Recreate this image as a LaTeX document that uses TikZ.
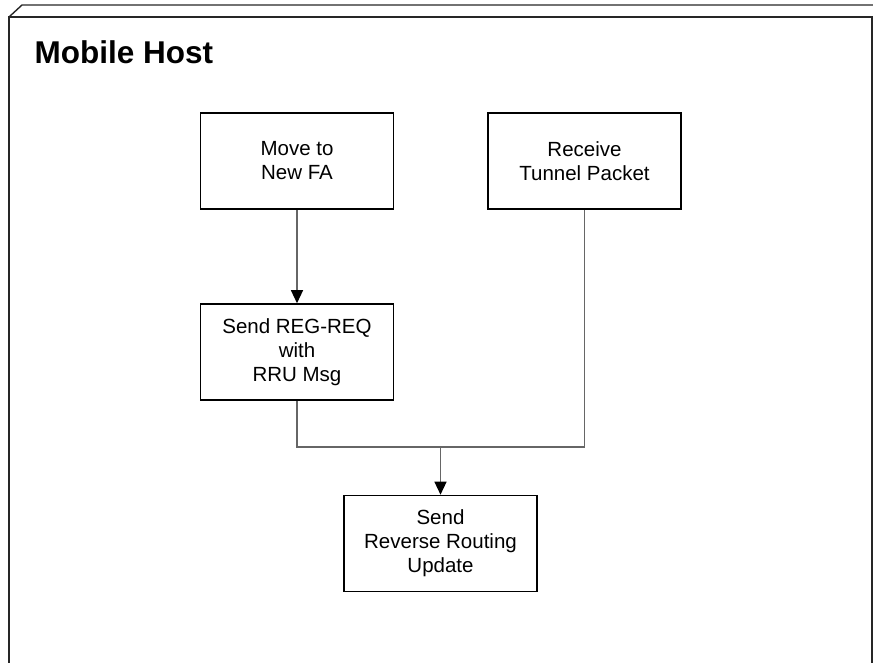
\documentclass[tikz,border=0pt]{standalone}
\usepackage{fontspec}
\setmainfont{Liberation Sans}
\usetikzlibrary{arrows.meta}

\tikzset{
  procbox/.style={draw=black, line width=1.6pt, rectangle,
    minimum width=193pt, minimum height=96pt, inner sep=0pt,
    align=center, font=\fontsize{20.5}{24}\selectfont},
  conn/.style={draw=black!60, line width=1.3pt},
  flowarrow/.style={-{Triangle[width=12pt,length=13pt,black]}},
  framebox/.style={draw=black!85, line width=1.4pt}
}

\begin{document}
\begin{tikzpicture}[x=1pt, y=-1pt]
  \useasboundingbox (0,0) rectangle (873,662);

  % enclosing lane frame with bevelled top edge
  \draw[framebox] (9,670) -- (9,17) -- (872,17) -- (872,670);
  \draw[framebox] (9,17) -- (22,5) -- (880,5);

  \node[anchor=base west, font=\fontsize{31.5}{36}\selectfont\bfseries]
    (title) at (31,63) {Mobile Host};

  % process steps
  \node[procbox] (mv)   at (297,161)   {Move to\\New FA};
  \node[procbox] (recv) at (584.5,161) {Receive\\Tunnel Packet};
  \node[procbox] (reg)  at (297,352)   {Send REG-REQ\\with\\RRU Msg};
  \node[procbox] (upd)  at (440.5,543.5) {Send\\Reverse Routing\\Update};

  \coordinate (j) at (440.5,447);

  % connectors
  \draw[conn, flowarrow] (mv) -- (reg);
  \draw[conn] (reg.south) -- (reg.south |- j) -- (recv.south |- j) -- (recv.south);
  \draw[conn, flowarrow] (j) -- (upd.north);
\end{tikzpicture}
\end{document}
